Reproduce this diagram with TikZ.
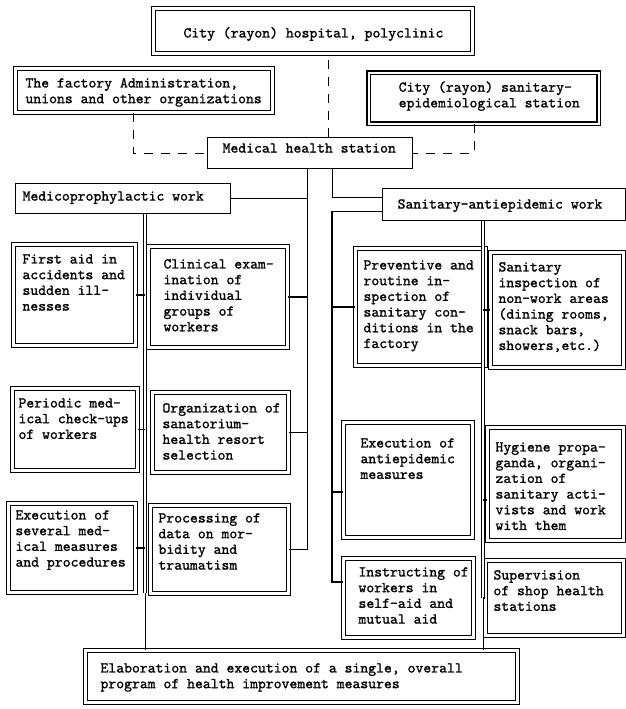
\documentclass[tikz,border=0pt]{standalone}
\usepackage{fontspec}
\setmonofont{lmmono10-regular.otf}[FakeBold=1.2]
\usetikzlibrary{calc}

% Box body: width, height, left indent, gap above first line, lines of text
\newcommand\cellbody[5]{%
  \parbox[c][#2bp][t]{#1bp}{\leftskip=#3bp\relax\vspace*{#4bp}\strut#5\par}}

\tikzset{
  typed/.style={font=\ttfamily\fontsize{15bp}{15.7bp}\selectfont},
  dbox/.style={typed, draw, double, double distance=2.2bp, line width=1bp,
    anchor=north west, inner sep=0pt},
  sbox/.style={typed, draw, line width=1.2bp, anchor=north west, inner sep=0pt},
  link/.style={line width=1.1bp},
  dashlink/.style={line width=1.1bp, dash pattern=on 9bp off 8bp},
  trunk/.style={double, double distance=2.5bp, line width=1bp}
}

\begin{document}
\begin{tikzpicture}[x=1bp, y=-1bp]
\path[fill=white, use as bounding box] (0,0) rectangle (626,709);

% upper level
\node[dbox] (top) at (153,8)
  {\cellbody{319}{45}{30}{18}{City (rayon) hospital, polyclinic}};
\node[dbox] (factory) at (15,68)
  {\cellbody{257}{44}{10}{8}{The factory Administration,\\unions and other organizations}};
\node[dbox, line width=1.4bp] (sanstation) at (368,72)
  {\cellbody{230}{51}{30}{8}{City (rayon) sanitary-\\epidemiological station}};
\node[sbox] (mhs) at (207,137)
  {\cellbody{205}{31}{15}{4}{Medical health station}};

% two branches of work
\node[sbox] (medico) at (15,183)
  {\cellbody{215}{30}{7}{6}{Medicoprophylactic work}};
\node[sbox] (sanepid) at (382,188)
  {\cellbody{243}{32}{15}{9}{Sanitary-antiepidemic work}};

% medicoprophylactic tasks
\node[dbox] (firstaid) at (13,244)
  {\cellbody{122}{101}{9}{8}{First aid in\\accidents and\\sudden ill-\\nesses}};
\node[dbox] (clinical) at (148,246)
  {\cellbody{139}{101}{15}{11}{Clinical exam-\\ination of\\individual\\groups of\\workers}};
\node[dbox] (periodic) at (12,388)
  {\cellbody{125}{82}{6}{8}{Periodic med-\\ical check-ups\\of workers}};
\node[dbox] (org) at (152,392)
  {\cellbody{136}{80}{10}{9}{Organization of\\sanatorium-\\health resort\\selection}};
\node[dbox] (execsev) at (8,503)
  {\cellbody{127}{89}{7}{5}{Execution of\\several med-\\ical measures\\and procedures}};
\node[dbox] (processing) at (150,505)
  {\cellbody{138}{88}{8}{6}{Processing of\\data on mor-\\bidity and\\traumatism}};

% sanitary-antiepidemic tasks
\node[dbox] (preventive) at (355,248)
  {\cellbody{130}{117}{8}{10}{Preventive and\\routine in-\\spection of\\sanitary con-\\ditions in the\\factory}};
\node[dbox] (saninsp) at (490,252)
  {\cellbody{133}{115}{8}{8}{Sanitary\\inspection of\\non-work areas\\(dining rooms,\\snack bars,\\showers,etc.)}};
\node[dbox] (execanti) at (343,422)
  {\cellbody{129}{115}{17}{14}{Execution of\\antiepidemic\\measures}};
\node[dbox] (hygiene) at (487,427)
  {\cellbody{136}{113}{8}{13}{Hygiene propa-\\ganda, organi-\\zation of\\sanitary acti-\\vists and work\\with them}};
\node[dbox] (instructing) at (343,558)
  {\cellbody{130}{79}{15}{7}{Instructing of\\workers in\\self-aid and\\mutual aid}};
\node[dbox] (supervision) at (485,560)
  {\cellbody{138}{75}{8}{8}{Supervision\\of shop health\\stations}};

% common outcome
\node[dbox] (elaboration) at (85,650)
  {\cellbody{432}{52}{15}{11}{Elaboration and execution of a single, overall\\program of health improvement measures}};

% dashed links into the health station
\coordinate (d1) at ($(mhs.north)+(18.5,0)$);
\draw[dashlink] (d1) -- (d1 |- top.south);
\coordinate (d2) at ($(factory.south)+(-10.5,0)$);
\draw[dashlink] (d2) |- (mhs.west);
\coordinate (d3) at ($(sanstation.south)+(-9,0)$);
\draw[dashlink] (d3) |- (mhs.east);

% medicoprophylactic line from the station
\coordinate (ta) at ($(mhs.south)+(-2.5,0)$);
\draw[link] (ta) |- (processing.east);
\draw[link] (medico.east) -- (medico.east -| ta);
\draw[link] (clinical.east) -- (clinical.east -| ta);
\draw[link] (org.east) -- (org.east -| ta);

% sanitary-antiepidemic line from the station
\coordinate (tb) at ($(mhs.south)+(22.5,0)$);
\draw[link] (tb) |- ($(sanepid.west)+(0,-7)$);
\draw[link] ($(sanepid.west)+(0,7)$) -| ($(instructing.west)+(-11,-16)$)
  -- ($(instructing.west)+(0,-16)$);
\draw[link] (preventive.west) -- (preventive.west -| tb);
\coordinate (ea) at ($(execanti.west)+(0,12)$);
\draw[link] (ea) -- (ea -| tb);

% left trunk down to the overall program
\coordinate (la) at ($(medico.south)+(22,0)$);
\coordinate (lb) at (la |- execsev.south);
\draw[trunk] (la) -- (lb);
\draw[link] (lb) -- (lb |- elaboration.north);
\draw[link] (firstaid.east) -- (firstaid.east -| la);
\draw[link] (periodic.east) -- (periodic.east -| la);
\draw[link] (execsev.east) -- (execsev.east -| la);

% right trunk down to the overall program
\coordinate (ra) at ($(sanepid.south)+(-21,0)$);
\coordinate (rb) at (ra |- supervision.west);
\draw[trunk] (ra) -- (rb);
\draw[link] (rb) -- (rb |- elaboration.north);
\draw[link] (saninsp.west) -- (saninsp.west -| ra);
\coordinate (hy) at ($(hygiene.west)+(0,16)$);
\draw[link] (hy) -- (hy -| ra);
\draw[link] (supervision.west) -- (supervision.west -| ra);
\end{tikzpicture}
\end{document}
